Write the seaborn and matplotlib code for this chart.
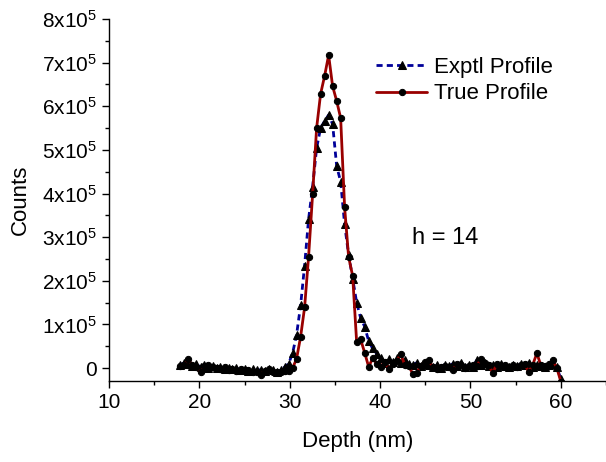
import matplotlib
matplotlib.use("Agg")
import matplotlib.pyplot as plt
import seaborn as sns
import pandas as pd
from matplotlib.ticker import MultipleLocator, FuncFormatter

depth = [17.90, 18.34, 18.79, 19.23, 19.67, 20.12, 20.56, 21.00, 21.45, 21.89,
         22.33, 22.78, 23.22, 23.66, 24.10, 24.55, 24.99, 25.43, 25.88, 26.32,
         26.76, 27.21, 27.65, 28.09, 28.54, 28.98, 29.42, 29.87, 30.31, 30.75,
         31.20, 31.64, 32.08, 32.53, 32.97, 33.41, 33.86, 34.30, 34.74, 35.19,
         35.63, 36.07, 36.51, 36.96, 37.40, 37.84, 38.29, 38.73, 39.17, 39.62,
         40.06, 40.50, 40.95, 41.39, 41.83, 42.28, 42.72, 43.16, 43.61, 44.05,
         44.49, 44.94, 45.38, 45.82, 46.27, 46.71, 47.15, 47.59, 48.04, 48.48,
         48.92, 49.37, 49.81, 50.25, 50.70, 51.14, 51.58, 52.03, 52.47, 52.91,
         53.36, 53.80, 54.24, 54.69, 55.13, 55.57, 56.02, 56.46, 56.90, 57.35,
         57.79, 58.23, 58.68, 59.12, 59.56, 60.00]

# counts in units of 1e5
exptl = [0.08, 0.12, 0.10, 0.04, 0.09, 0.03, 0.07, 0.01, 0.05, 0.00,
         0.03, -0.02, 0.01, -0.03, 0.00, -0.05, -0.02, -0.06, -0.03, -0.05,
         -0.04, -0.07, -0.02, -0.05, -0.09, -0.05, 0.02, 0.10, 0.34, 0.76,
         1.44, 2.35, 3.41, 4.16, 5.04, 5.50, 5.66, 5.80, 5.59, 4.63,
         4.27, 3.29, 2.60, 2.05, 1.50, 1.15, 0.95, 0.62, 0.45, 0.33,
         0.22, 0.12, 0.20, 0.15, 0.22, 0.12, 0.18, 0.10, 0.08, 0.12,
         0.05, 0.10, 0.08, 0.02, 0.06, 0.00, 0.08, 0.04, 0.10, 0.05,
         0.12, 0.03, 0.07, 0.02, 0.18, 0.08, 0.12, 0.05, 0.08, 0.03,
         0.09, 0.05, 0.02, 0.08, 0.04, 0.10, 0.06, 0.12, 0.03, 0.08,
         0.05, 0.02, 0.06, 0.10, 0.02, -0.25]

true = [0.05, 0.08, 0.20, 0.06, 0.02, -0.10, 0.04, 0.08, 0.02, 0.00,
        -0.03, 0.02, -0.05, -0.02, -0.07, -0.03, -0.05, -0.04, -0.10, -0.08,
        -0.16, -0.06, -0.03, -0.08, -0.10, -0.08, -0.06, -0.06, 0.00, 0.21,
        0.72, 1.39, 2.55, 3.99, 5.50, 6.28, 6.70, 7.17, 6.46, 6.12,
        5.73, 3.68, 2.55, 2.11, 0.60, 0.66, 0.35, 0.03, 0.22, 0.10,
        0.03, 0.15, -0.02, 0.10, 0.16, 0.32, 0.08, 0.05, -0.13, -0.12,
        0.05, 0.14, 0.18, 0.03, -0.03, 0.02, 0.05, 0.02, -0.05, 0.10,
        0.08, 0.00, 0.04, 0.08, 0.05, 0.20, 0.12, 0.08, -0.12, 0.10,
        0.05, 0.08, 0.03, 0.06, 0.02, 0.07, 0.09, -0.10, 0.08, 0.34,
        0.06, 0.05, 0.10, 0.18, 0.00, -0.31]

scale = 1e5
series_labels = ["Exptl Profile", "True Profile"]
annotation = "h = 14"

sns.set_style("ticks")
plt.rcParams["font.family"] = ["Liberation Sans", "DejaVu Sans"]
plt.rcParams["mathtext.fontset"] = "custom"
plt.rcParams["mathtext.rm"] = "Liberation Sans"
plt.rcParams["mathtext.default"] = "regular"
plt.rcParams["text.color"] = "black"
plt.rcParams["axes.labelcolor"] = "black"
plt.rcParams["axes.edgecolor"] = "black"
plt.rcParams["xtick.color"] = "black"
plt.rcParams["ytick.color"] = "black"

df = pd.DataFrame({"Depth": depth,
                   "Exptl": [v * scale for v in exptl],
                   "True": [v * scale for v in true]})

fig = plt.figure(figsize=(6.06, 4.62), dpi=100)
ax = fig.add_axes([0.18, 0.175, 0.82, 0.784])

sns.lineplot(data=df, x="Depth", y="Exptl", ax=ax, color="#000099",
             linestyle=(0, (2.2, 1.5)), linewidth=2, marker="^", markersize=5.5,
             markerfacecolor="black", markeredgecolor="black",
             label=series_labels[0])
sns.lineplot(data=df, x="Depth", y="True", ax=ax, color="#990000",
             linestyle="-", linewidth=2, marker="o", markersize=4.5,
             markerfacecolor="black", markeredgecolor="black",
             label=series_labels[1])

ax.set_xlim(10, 65)
ax.set_ylim(-0.3e5, 8e5)
ax.xaxis.set_major_locator(MultipleLocator(10))
ax.xaxis.set_minor_locator(MultipleLocator(5))
ax.yaxis.set_major_locator(MultipleLocator(1e5))
ax.yaxis.set_minor_locator(MultipleLocator(0.5e5))


def yfmt(v, pos):
    n = int(round(v / 1e5))
    if n == 0:
        return "0"
    return r"$%dx10^{5}$" % n


ax.yaxis.set_major_formatter(FuncFormatter(yfmt))
ax.tick_params(axis="both", which="major", direction="out", length=5,
               width=1, labelsize=15, colors="black")
ax.tick_params(axis="both", which="minor", direction="out", length=3, width=1,
               colors="black")
for s in ["top", "right"]:
    ax.spines[s].set_visible(False)
for s in ["left", "bottom"]:
    ax.spines[s].set_linewidth(1)
    ax.spines[s].set_color("black")

ax.set_xlabel("Depth (nm)", fontsize=16, labelpad=14, color="black")
ax.set_ylabel("Counts", fontsize=16, labelpad=8, color="black")
ax.text(43.5, 2.97e5, annotation, fontsize=17, ha="left", va="center",
        color="black")

leg = ax.legend(loc="upper left", bbox_to_anchor=(0.52, 0.92), frameon=False,
                fontsize=16, handlelength=2.3, handletextpad=0.3,
                labelspacing=0.25, markerscale=1.0, borderaxespad=0)
for t in leg.get_texts():
    t.set_color("black")

fig.savefig("out.png", dpi=100)
